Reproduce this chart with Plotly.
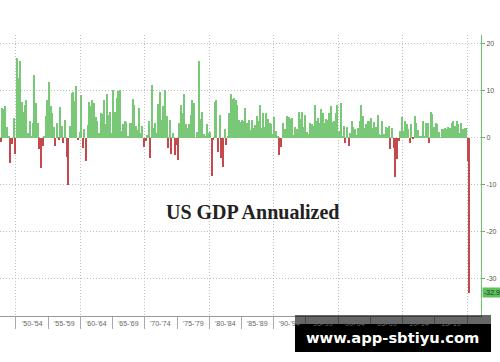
import plotly.graph_objects as go

# ---- data: US real GDP, q/q annualized %, starting 1947 Q2 ----
start_year = 1947
start_quarter = 2
gdp_saar = [
    -1.0, -0.8, 6.4,                 # 1947
    6.2, 6.8, 2.3, 0.5,              # 1948
    -5.4, -1.4, 4.3, -3.5,           # 1949
    16.9, 12.7, 16.4, 7.6,           # 1950
    5.6, 7.1, 8.1, 1.0,              # 1951
    3.5, 0.4, 3.1, 13.3,             # 1952
    7.5, 3.1, -2.3, -6.3,            # 1953
    -1.8, 0.4, 4.6, 8.1,             # 1954
    12.0, 6.8, 5.4, 2.3,             # 1955
    -1.7, 3.2, -0.4, 6.6,            # 1956
    2.6, -1.0, 3.8, -4.1,            # 1957
    -10.0, 2.6, 9.6, 9.7,            # 1958
    7.9, 11.0, -0.5, 1.3,            # 1959
    9.2, -2.1, 2.0, -5.0,            # 1960
    2.7, 7.7, 6.7, 8.1,              # 1961
    7.4, 4.4, 3.7, 1.0,              # 1962
    5.3, 5.0, 8.0, 3.0,              # 1963
    9.4, 4.8, 5.6, 1.1,              # 1964
    10.2, 5.5, 8.4, 10.0,            # 1965
    10.1, 1.5, 2.9, 3.6,             # 1966
    3.3, 0.4, 3.2, 3.2,              # 1967
    8.3, 7.0, 2.6, 1.6,              # 1968
    6.3, 1.0, 2.5, -1.9,             # 1969
    -0.6, 0.6, 3.7, -4.2,            # 1970
    11.3, 2.2, 3.2, 1.0,             # 1971
    7.2, 9.8, 3.9, 6.8,              # 1972
    10.3, 4.6, -2.1, 3.9,            # 1973
    -3.4, 1.0, -3.7, -1.5,           # 1974
    -4.8, 3.1, 6.9, 5.4,             # 1975
    9.4, 3.0, 2.2, 2.9,              # 1976
    4.8, 8.0, 7.4, 0.0,              # 1977
    1.3, 16.4, 4.1, 5.5,             # 1978
    0.8, 0.4, 3.0, 1.0,              # 1979
    1.3, -8.0, -0.5, 7.7,            # 1980
    8.1, -2.9, 4.9, -4.3,            # 1981
    -6.1, 1.8, -1.5, 0.2,            # 1982
    5.4, 9.4, 8.2, 8.6,              # 1983
    8.1, 7.1, 3.9, 3.3,              # 1984
    3.9, 3.6, 6.4, 3.1,              # 1985
    3.9, 1.6, 3.9, 2.1,              # 1986
    2.8, 4.6, 3.5, 7.0,              # 1987
    2.1, 5.4, 2.4, 5.4,              # 1988
    4.1, 3.1, 3.0, 0.8,              # 1989
    4.4, 1.5, 0.3, -3.6,             # 1990
    -1.9, 3.1, 1.9, 1.9,             # 1991
    4.7, 4.4, 4.0, 4.2,              # 1992
    0.7, 2.3, 1.9, 5.5,              # 1993
    4.0, 5.5, 2.4, 4.8,              # 1994
    1.2, 0.9, 3.2, 2.9,              # 1995
    2.6, 7.0, 3.7, 4.3,              # 1996
    3.1, 6.2, 5.2, 3.1,              # 1997
    4.0, 3.8, 5.3, 6.7,              # 1998
    3.4, 3.6, 5.4, 7.0,              # 1999
    1.5, 7.5, 0.5, 2.5,              # 2000
    -1.1, 2.4, -1.7, 1.1,            # 2001
    3.5, 2.4, 1.8, 0.6,              # 2002
    2.2, 3.5, 7.0, 4.7,              # 2003
    2.2, 3.0, 3.7, 3.5,              # 2004
    4.3, 2.1, 3.4, 2.3,              # 2005
    4.9, 0.9, 0.6, 3.5,              # 2006
    0.9, 2.3, 2.2, 2.5,              # 2007
    -2.3, 2.1, -2.1, -8.4,           # 2008
    -4.4, -0.6, 1.5, 4.5,            # 2009
    1.5, 3.7, 3.0, 2.0,              # 2010
    -1.0, 2.9, -0.1, 4.7,            # 2011
    3.2, 1.7, 0.5, 0.5,              # 2012
    3.6, 0.5, 3.2, 3.2,              # 2013
    -1.1, 5.5, 5.0, 2.3,             # 2014
    3.2, 3.0, 1.3, 0.1,              # 2015
    2.0, 1.9, 2.2, 2.0,              # 2016
    2.3, 2.2, 3.2, 3.5,              # 2017
    2.5, 3.5, 2.9, 1.1,              # 2018
    3.1, 2.0, 2.1, 2.1,              # 2019
    -5.0, -32.9,                     # 2020
]

y_tickvals = [20, 10, 0, -10, -20, -30]
y_ticktext = ["20", "10", "0", "-10", "-20", "-30"]

period_labels = ["'50-'54", "'55-'59", "'60-'64", "'65-'69", "'70-'74", "'75-'79",
                 "'80-'84", "'85-'89", "'90-'94", "'95-'99", "'00-'04", "'05-'09",
                 "'10-'14", "'15-'19"]
period_centers = [1952.5, 1957.5, 1962.5, 1967.5, 1972.5, 1977.5, 1982.5, 1987.5,
                  1992.5, 1997.5, 2002.5, 2007.5, 2012.5, 2017.5]

title_text = "US GDP Annualized"
last_label = "-32.9"
watermark = "www.app-sbtiyu.com"

# ---- derived ----
x_time = [start_year + (start_quarter - 1) / 4 + i / 4 + 0.125 for i in range(len(gdp_saar))]
GREEN = "#78c878"
RED = "#c4494c"
colors = [GREEN if v >= 0 else RED for v in gdp_saar]

fig = go.Figure()
fig.add_trace(go.Bar(x=x_time, y=gdp_saar, marker=dict(color=colors, line=dict(width=0)),
                     width=0.17, showlegend=False, hoverinfo="skip"))

grid = "#bdbdbd"
dots = "1px,2px"
fig.update_layout(
    width=500, height=362,
    margin=dict(l=0, r=19, t=35, b=46),
    paper_bgcolor="white", plot_bgcolor="white",
    bargap=0,
    font=dict(family="Liberation Sans, Arial, sans-serif", size=7, color="#555"),
    xaxis=dict(
        range=[1947.52, 2022.17], tickmode="linear", tick0=1950, dtick=10,
        showgrid=True, gridcolor=grid, griddash=dots, gridwidth=1,
        ticks="outside", ticklen=12, tickcolor="#aaaaaa", tickwidth=1,
        showticklabels=False, showline=True, linecolor="#9a9a9a", linewidth=1,
        zeroline=False,
        minor=dict(tick0=1950, dtick=5, ticks="outside", ticklen=12,
                   tickcolor="#aaaaaa", tickwidth=1, showgrid=False),
    ),
    yaxis=dict(
        side="right", range=[-37.9, 21.9], tickmode="array",
        tickvals=y_tickvals, ticktext=y_ticktext,
        showgrid=True, gridcolor=grid, griddash=dots, gridwidth=1,
        ticks="outside", ticklen=3, tickcolor="#5cb85c",
        showline=True, linecolor="#6cc46c", linewidth=1, zeroline=False,
        tickfont=dict(size=7, color="#555"),
    ),
)

for lab, c in zip(period_labels, period_centers):
    fig.add_annotation(x=c, xref="x", xanchor="center", y=0, yref="paper", yshift=-2, yanchor="top",
                       text=lab, showarrow=False, font=dict(size=7, color="#666"))

fig.add_annotation(x=252.5 / 481, y=(316 - 212) / 281, xref="paper", yref="paper",
                   xanchor="center", yanchor="middle",
                   text="<b>" + title_text + "</b>", showarrow=False,
                   font=dict(family="Liberation Serif, Times New Roman, serif", size=20, color="#222"))

fig.add_annotation(x=1, xref="paper", xanchor="left", xshift=1, y=gdp_saar[-1], yref="y",
                   text=last_label, showarrow=False, bgcolor="#5cc05c", borderpad=1,
                   font=dict(size=7, color="#1e3e1e"))

# watermark banner
fig.add_shape(type="rect", xref="paper", yref="paper", x0=295 / 481, x1=491 / 481,
              y0=-8 / 281, y1=1 / 281, fillcolor="rgba(0,0,0,0.6)", line=dict(width=0), layer="above")
fig.add_shape(type="rect", xref="paper", yref="paper", x0=295 / 481, x1=491 / 481,
              y0=-36 / 281, y1=-8 / 281, fillcolor="black", line=dict(width=0), layer="above")
fig.add_annotation(x=392 / 481, y=-21 / 281, xref="paper", yref="paper", xanchor="center",
                   yanchor="middle", text="<b>" + watermark + "</b>",
                   showarrow=False, font=dict(family="DejaVu Sans, sans-serif", size=14.7, color="white"))

fig.write_html("out.html", config={"displayModeBar": False},
               post_script="document.body.style.margin='0px';")
